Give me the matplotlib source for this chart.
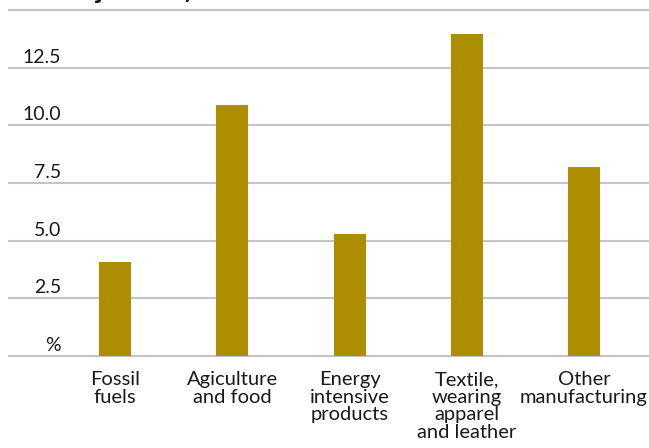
import matplotlib
matplotlib.use("Agg")
import matplotlib.pyplot as plt
import matplotlib.transforms as mtransforms

categories = ["Fossil\nfuels", "Agiculture\nand food", "Energy\nintensive\nproducts",
              "Textile,\nwearing\napparel\nand leather", "Other\nmanufacturing"]
values = [4.07, 10.88, 5.29, 13.96, 8.19]
ytick_values = [0, 2.5, 5.0, 7.5, 10.0, 12.5, 15.0]
ytick_labels = ["%", "2.5", "5.0", "7.5", "10.0", "12.5", ""]
title = "Tariffs by sector, 2019"

W, H, DPI = 649, 448, 100
fig = plt.figure(figsize=(W / DPI, H / DPI), dpi=DPI)
ax = fig.add_axes([9 / W, 1 - 356 / H, 640 / W, 346 / H])

bar_color = "#ac8e00"
grid_color = "#c4c4c4"
font = "Lato"

x = list(range(len(categories)))
ax.bar(x, values, width=0.273, color=bar_color, zorder=3)
ax.set_xlim(-0.904, 4.554)
ax.set_ylim(0, 15)

for v in ytick_values:
    ax.axhline(v, color=grid_color, linewidth=1.5, zorder=1, clip_on=False)

for s in ax.spines.values():
    s.set_visible(False)
ax.set_xticks([])
ax.set_yticks([])

trans = mtransforms.blended_transform_factory(ax.transAxes, ax.transData)
off = mtransforms.offset_copy(trans, fig=fig, x=0, y=5, units="dots")
for v, lab in zip(ytick_values, ytick_labels):
    if lab:
        ax.text((61 - 9) / 640, v, lab, transform=off, ha="right", va="baseline",
                fontsize=14, family=font, color="#1a1a1a")

offx = mtransforms.offset_copy(ax.transData, fig=fig, x=0, y=-15, units="dots")
for xi, lab in zip(x, categories):
    ax.text(xi, 0, lab, transform=offx, ha="center", va="top", fontsize=14.5,
            family=font, color="#1a1a1a", linespacing=1.05, multialignment="center")

fig.text(-3 / W, 1 + 1.5 / H, title, ha="left", va="baseline", fontsize=15,
         fontweight="bold", color="#111111")

fig.savefig("out.png", dpi=DPI)
